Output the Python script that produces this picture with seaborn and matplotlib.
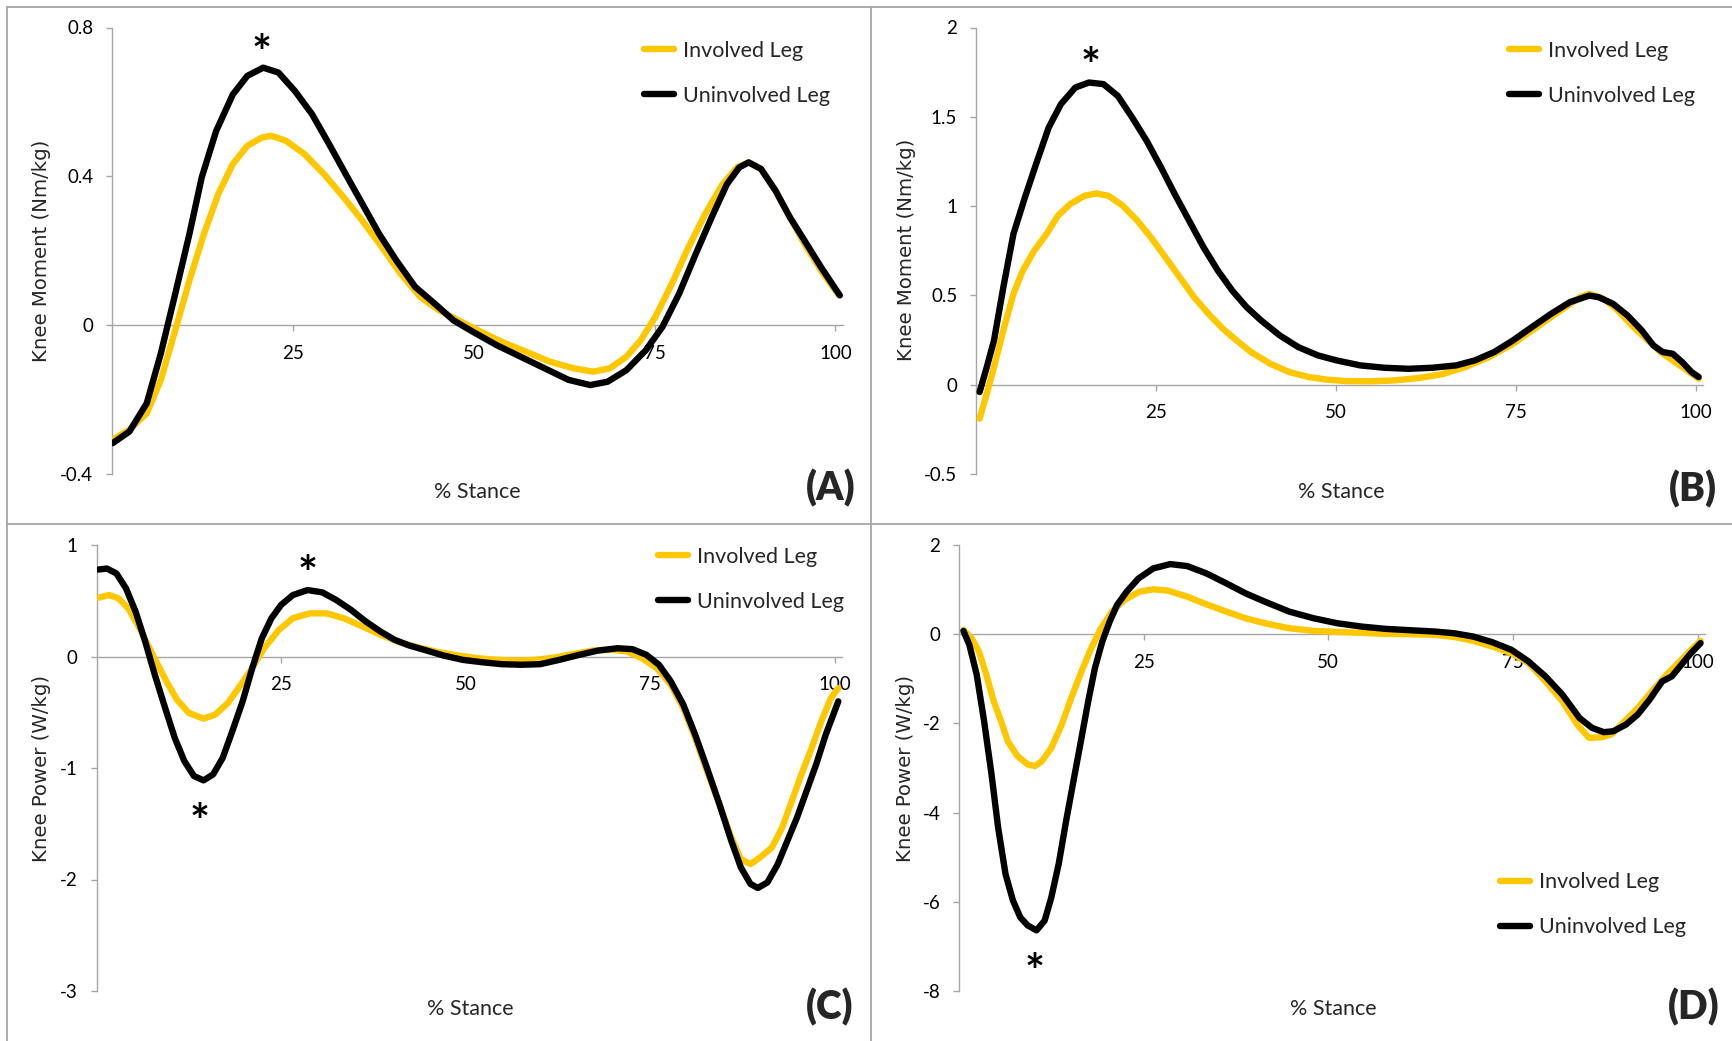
import matplotlib
matplotlib.use("Agg")
import matplotlib.pyplot as plt
from matplotlib.lines import Line2D
import pandas as pd
import seaborn as sns

# ---------------- data: knee kinetics over % stance ----------------
# (A) knee moment, Nm/kg
stance_a_inv = [0.1, 2.4, 4.8, 6.75, 8.75, 10.7, 12.7, 14.7, 16.7, 18.7, 20.7, 22.0, 24.0,
                26.6, 29.3, 32.0, 34.6, 37.3, 39.9, 42.6, 45.2, 47.9, 50.5, 53.9, 57.2,
                60.5, 63.8, 66.5, 68.8, 71.1, 73.1, 75.1, 77.4, 79.7, 82.0, 84.4, 86.4,
                88.0, 89.7, 91.7, 93.7, 95.7, 98.0, 100.3]
moment_a_inv = [-0.308, -0.281, -0.237, -0.147, -0.013, 0.12, 0.245, 0.353, 0.433, 0.482,
                0.504, 0.509, 0.496, 0.46, 0.406, 0.344, 0.281, 0.21, 0.138, 0.076, 0.04,
                0.013, -0.013, -0.045, -0.071, -0.098, -0.116, -0.125, -0.116, -0.085,
                -0.04, 0.022, 0.112, 0.21, 0.299, 0.379, 0.424, 0.4375, 0.42, 0.362,
                0.29, 0.219, 0.147, 0.085]
stance_a_uninv = [0.1, 2.4, 4.8, 6.75, 8.75, 10.7, 12.4, 14.4, 16.7, 18.7, 20.9, 23.0, 25.3,
                  27.65, 30.0, 32.3, 34.6, 36.9, 39.3, 41.9, 44.6, 47.2, 49.9, 53.2, 56.5,
                  59.8, 63.1, 66.1, 68.5, 71.1, 73.8, 76.1, 78.4, 80.7, 83.1, 85.0, 86.7,
                  88.0, 89.7, 91.7, 93.7, 95.7, 98.0, 100.6]
moment_a_uninv = [-0.317, -0.286, -0.21, -0.076, 0.085, 0.245, 0.397, 0.522, 0.62, 0.67,
                  0.692, 0.679, 0.629, 0.567, 0.487, 0.406, 0.326, 0.246, 0.174, 0.103,
                  0.058, 0.013, -0.018, -0.054, -0.085, -0.116, -0.147, -0.161, -0.152,
                  -0.121, -0.067, -0.004, 0.085, 0.192, 0.299, 0.379, 0.424, 0.4375,
                  0.42, 0.362, 0.29, 0.228, 0.156, 0.08]

# (B) knee moment, Nm/kg
stance_b_inv = [0.5, 1.5, 2.5, 3.8, 5.2, 6.5, 8.1, 9.8, 11.4, 13.1, 15.1, 16.7, 18.4, 20.4,
                22.4, 24.3, 26.3, 28.3, 30.3, 32.3, 34.3, 36.2, 38.2, 40.9, 43.5, 46.2,
                48.8, 51.5, 54.8, 58.1, 61.4, 64.7, 68.0, 71.3, 74.6, 77.9, 81.2, 83.9,
                85.2, 87.2, 89.2, 91.1, 93.1, 95.1, 97.1, 99.1, 100.4]
moment_b_inv = [-0.19, -0.05, 0.099, 0.304, 0.509, 0.639, 0.751, 0.844, 0.947, 1.012, 1.058,
                1.071, 1.058, 1.002, 0.919, 0.825, 0.714, 0.602, 0.49, 0.397, 0.313, 0.248,
                0.183, 0.117, 0.071, 0.043, 0.028, 0.02, 0.019, 0.024, 0.037, 0.058, 0.099,
                0.155, 0.229, 0.322, 0.415, 0.49, 0.509, 0.481, 0.415, 0.332, 0.257, 0.183,
                0.127, 0.071, 0.034]
stance_b_uninv = [0.5, 1.5, 2.5, 3.8, 5.2, 6.8, 8.5, 10.1, 11.8, 13.8, 15.7, 17.7, 19.7, 21.7,
                  23.7, 25.7, 27.6, 29.6, 31.6, 33.6, 35.6, 37.6, 39.6, 42.2, 44.8, 47.5,
                  50.1, 53.4, 56.7, 60.1, 63.4, 66.7, 69.3, 72.0, 74.6, 77.2, 79.9, 82.5,
                  85.2, 86.5, 88.5, 90.5, 92.5, 94.1, 95.4, 96.8, 98.1, 99.4, 100.4]
moment_b_uninv = [-0.041, 0.099, 0.248, 0.546, 0.844, 1.049, 1.254, 1.44, 1.571, 1.664, 1.692,
                  1.683, 1.617, 1.496, 1.366, 1.217, 1.068, 0.919, 0.77, 0.639, 0.527, 0.434,
                  0.36, 0.276, 0.21, 0.164, 0.136, 0.108, 0.095, 0.089, 0.095, 0.108, 0.136,
                  0.183, 0.248, 0.322, 0.397, 0.462, 0.499, 0.49, 0.453, 0.388, 0.304, 0.22,
                  0.183, 0.173, 0.127, 0.071, 0.043]

# (C) knee power, W/kg
stance_c_inv = [0.26, 1.7, 3.0, 4.3, 5.6, 6.96, 8.3, 9.6, 10.9, 12.5, 14.5, 16.1, 17.8, 19.4,
                21.1, 22.7, 24.7, 26.6, 28.9, 31.2, 33.5, 35.8, 38.5, 41.1, 43.7, 46.3, 49.0,
                51.6, 54.2, 56.8, 59.5, 62.1, 64.7, 67.3, 70.0, 71.9, 73.9, 75.9, 77.8, 79.5,
                81.1, 82.7, 84.4, 86.0, 87.3, 88.6, 89.9, 91.5, 92.9, 94.2, 95.5, 96.9, 98.2,
                99.5, 100.5]
power_c_inv = [0.527, 0.551, 0.521, 0.432, 0.283, 0.104, -0.074, -0.238, -0.387, -0.506,
               -0.557, -0.521, -0.417, -0.268, -0.104, 0.074, 0.238, 0.343, 0.387, 0.387,
               0.343, 0.277, 0.194, 0.128, 0.08, 0.039, 0.009, -0.015, -0.03, -0.036, -0.03,
               -0.009, 0.024, 0.054, 0.06, 0.045, -0.015, -0.104, -0.253, -0.462, -0.73,
               -1.028, -1.326, -1.623, -1.817, -1.862, -1.802, -1.713, -1.534, -1.296,
               -1.057, -0.819, -0.581, -0.372, -0.283]
stance_c_uninv = [0.26, 1.4, 2.7, 4.0, 5.3, 6.6, 7.9, 9.3, 10.6, 11.9, 13.2, 14.5, 15.8, 17.1,
                  18.4, 19.8, 21.1, 22.4, 23.7, 25.0, 26.6, 28.6, 30.6, 32.5, 34.5, 36.5, 38.5,
                  40.4, 42.4, 44.4, 47.0, 49.6, 52.2, 54.9, 57.5, 60.1, 62.7, 65.4, 68.0, 70.6,
                  72.6, 74.5, 76.2, 77.8, 79.5, 81.1, 82.7, 84.4, 86.0, 87.3, 88.6, 89.6, 90.9,
                  92.3, 93.6, 94.9, 96.2, 97.5, 98.8, 100.5]
power_c_uninv = [0.78, 0.789, 0.745, 0.611, 0.402, 0.134, -0.164, -0.462, -0.73, -0.938,
                 -1.072, -1.111, -1.057, -0.909, -0.67, -0.402, -0.104, 0.164, 0.343, 0.462,
                 0.551, 0.596, 0.575, 0.506, 0.417, 0.313, 0.223, 0.149, 0.098, 0.06, 0.009,
                 -0.03, -0.051, -0.069, -0.074, -0.069, -0.03, 0.015, 0.054, 0.074, 0.066,
                 0.015, -0.074, -0.223, -0.432, -0.7, -0.998, -1.326, -1.653, -1.892, -2.04,
                 -2.076, -2.026, -1.862, -1.653, -1.445, -1.206, -0.968, -0.7, -0.402]

# (D) knee power, W/kg
stance_d_inv = [0.6, 1.7, 2.7, 3.7, 4.7, 5.7, 6.6, 7.9, 9.3, 10.3, 11.2, 12.5, 13.9, 15.2,
                16.5, 17.8, 19.1, 20.7, 22.4, 24.4, 26.3, 28.3, 30.9, 33.5, 36.2, 38.8, 41.4,
                44.7, 48.0, 51.2, 54.5, 57.8, 61.1, 64.4, 67.0, 69.6, 72.2, 74.8, 77.1, 79.4,
                81.7, 83.7, 85.3, 87.0, 88.3, 89.9, 91.9, 93.8, 95.8, 97.8, 99.1, 100.4]
power_d_inv = [0.097, -0.089, -0.387, -0.909, -1.505, -1.95, -2.4, -2.73, -2.92, -2.957,
               -2.85, -2.55, -2.03, -1.43, -0.87, -0.35, 0.097, 0.507, 0.767, 0.953, 1.006,
               0.976, 0.842, 0.67, 0.507, 0.358, 0.246, 0.134, 0.074, 0.052, 0.03, 0.007,
               0.0, -0.015, -0.06, -0.149, -0.276, -0.425, -0.648, -1.058, -1.505, -2.026,
               -2.324, -2.309, -2.25, -1.99, -1.654, -1.281, -0.909, -0.574, -0.35, -0.149]
stance_d_uninv = [0.6, 1.4, 2.4, 3.4, 4.4, 5.3, 6.3, 7.3, 8.3, 9.3, 10.5, 11.6, 12.5, 13.5,
                  14.5, 15.5, 16.5, 17.5, 18.4, 19.4, 20.4, 21.4, 22.7, 24.3, 26.3, 28.6, 30.9,
                  33.5, 36.2, 38.8, 41.4, 44.7, 48.0, 51.2, 54.5, 57.8, 61.1, 64.4, 67.0, 69.6,
                  72.2, 74.8, 77.1, 79.4, 81.7, 84.0, 85.7, 87.3, 88.6, 90.3, 91.9, 93.5, 95.2,
                  96.5, 97.8, 99.1, 100.4]
power_d_uninv = [0.074, -0.238, -0.909, -1.95, -3.14, -4.34, -5.38, -5.97, -6.35, -6.53, -6.64,
                 -6.42, -5.9, -5.15, -4.19, -3.29, -2.4, -1.5, -0.76, -0.164, 0.283, 0.655,
                 0.953, 1.25, 1.475, 1.572, 1.527, 1.363, 1.14, 0.916, 0.73, 0.507, 0.358,
                 0.246, 0.171, 0.119, 0.089, 0.06, 0.022, -0.052, -0.179, -0.35, -0.61,
                 -0.946, -1.356, -1.877, -2.1, -2.197, -2.175, -2.026, -1.8, -1.467, -1.058,
                 -0.946, -0.685, -0.425, -0.2]

legs = ["Involved Leg", "Uninvolved Leg"]
leg_colors = {"Involved Leg": "#FFC700", "Uninvolved Leg": "#000000"}

# ---------------- style ----------------
sns.set_theme(style="white")
plt.rcParams["font.family"] = ["Lato", "DejaVu Sans"]

GREY = "#a6a6a6"
W, H = 1732, 1041

fig = plt.figure(figsize=(W / 100, H / 100), dpi=100)
fig.patch.set_facecolor("white")


def fx(px):
    return px / W


def fy(py):
    return 1 - py / H


panels = [
    dict(name="(A)", inv=(stance_a_inv, moment_a_inv), uninv=(stance_a_uninv, moment_a_uninv),
         rect=(112, 27.5, 842.7, 474), ylim=(-0.4, 0.8), yticks=[-0.4, 0, 0.4, 0.8],
         yticklabels=["-0.4", "0", "0.4", "0.8"], ylabel="Knee Moment (Nm/kg)",
         ylab_xy=(42, 251), xlab_xy=(477, 492), letter_xy=(831, 488),
         legend_xy=(644, 41), stars=[(20.7, 0.768)]),
    dict(name="(B)", inv=(stance_b_inv, moment_b_inv), uninv=(stance_b_uninv, moment_b_uninv),
         rect=(976, 27.5, 1703, 474), ylim=(-0.5, 2.0), yticks=[-0.5, 0, 0.5, 1, 1.5, 2],
         yticklabels=["-0.5", "0", "0.5", "1", "1.5", "2"], ylabel="Knee Moment (Nm/kg)",
         ylab_xy=(906, 250), xlab_xy=(1341, 492), letter_xy=(1693, 489),
         legend_xy=(1509, 41), stars=[(15.9, 1.86)]),
    dict(name="(C)", inv=(stance_c_inv, power_c_inv), uninv=(stance_c_uninv, power_c_uninv),
         rect=(96.5, 545, 842, 991), ylim=(-3, 1), yticks=[-3, -2, -1, 0, 1],
         yticklabels=["-3", "-2", "-1", "0", "1"], ylabel="Knee Power (W/kg)",
         ylab_xy=(42, 768), xlab_xy=(470, 1009), letter_xy=(830, 1007),
         legend_xy=(658, 547), stars=[(28.6, 0.864), (14.0, -1.361)]),
    dict(name="(D)", inv=(stance_d_inv, power_d_inv), uninv=(stance_d_uninv, power_d_uninv),
         rect=(959, 545, 1705, 991), ylim=(-8, 2), yticks=[-8, -6, -4, -2, 0, 2],
         yticklabels=["-8", "-6", "-4", "-2", "0", "2"], ylabel="Knee Power (W/kg)",
         ylab_xy=(905, 768), xlab_xy=(1333, 1009), letter_xy=(1694, 1007),
         legend_xy=(1500, 872.5), stars=[(10.3, -7.255)]),
]

for p in panels:
    x0, y0, x1, y1 = p["rect"]
    ax = fig.add_axes([fx(x0), fy(y1), (x1 - x0) / W, (y1 - y0) / H])
    ax.set_facecolor("none")

    df = pd.concat([
        pd.DataFrame({"stance": p["inv"][0], "value": p["inv"][1], "leg": legs[0]}),
        pd.DataFrame({"stance": p["uninv"][0], "value": p["uninv"][1], "leg": legs[1]}),
    ], ignore_index=True)

    sns.lineplot(data=df, x="stance", y="value", hue="leg", hue_order=legs,
                 palette=leg_colors, linewidth=4.6, sort=False, ax=ax,
                 solid_capstyle="round", solid_joinstyle="round", zorder=3)

    ax.set_xlim(0, 101)
    ax.set_ylim(*p["ylim"])
    ax.set_xticks([25, 50, 75, 100])
    ax.set_xticklabels(["25", "50", "75", "100"])
    ax.set_yticks(p["yticks"])
    ax.set_yticklabels(p["yticklabels"])

    for side in ("top", "right"):
        ax.spines[side].set_visible(False)
    ax.spines["bottom"].set_position(("data", 0))
    for side in ("left", "bottom"):
        ax.spines[side].set_color(GREY)
        ax.spines[side].set_linewidth(1.0)
        ax.spines[side].set_zorder(1)

    ax.tick_params(axis="y", which="major", direction="out", length=4.5, width=1.0,
                   color=GREY, pad=9, labelsize=13.5, labelcolor="#000000", left=True)
    ax.tick_params(axis="x", which="major", direction="out", length=4.5, width=1.0,
                   color=GREY, pad=9.5, labelsize=13.5, labelcolor="#000000", bottom=True)

    ax.set_ylabel(p["ylabel"], family="DejaVu Sans", fontsize=14.2, va="center")
    ax.yaxis.set_label_coords(fx(p["ylab_xy"][0]), fy(p["ylab_xy"][1]),
                              transform=fig.transFigure)
    ax.set_xlabel("% Stance", fontsize=15.5, va="center")
    ax.xaxis.set_label_coords(fx(p["xlab_xy"][0]), fy(p["xlab_xy"][1]),
                              transform=fig.transFigure)

    handles, labels = ax.get_legend_handles_labels()
    ax.legend(handles, labels, loc="upper left",
              bbox_to_anchor=(fx(p["legend_xy"][0]), fy(p["legend_xy"][1])),
              bbox_transform=fig.transFigure, frameon=False, borderpad=0,
              borderaxespad=0, handlelength=1.4, handletextpad=0.4,
              labelspacing=1.15, fontsize=15.5)

    # significance markers
    for sx, sy in p["stars"]:
        ax.annotate("*", xy=(sx, sy), xytext=(0, -11.5), textcoords="offset points",
                    ha="center", va="center", fontsize=34, fontweight="bold",
                    color="#000000", zorder=4)

    fig.text(fx(p["letter_xy"][0]), fy(p["letter_xy"][1]), p["name"],
             ha="center", va="center", fontsize=28, fontweight="heavy")

# panel frame lines
frame_kw = dict(color=GREY, linewidth=1.3, transform=fig.transFigure)
fig.add_artist(Line2D([fx(7), fx(7)], [fy(7), 0], **frame_kw))
fig.add_artist(Line2D([fx(7), 1], [fy(7), fy(7)], **frame_kw))
fig.add_artist(Line2D([fx(871), fx(871)], [fy(7), 0], **frame_kw))
fig.add_artist(Line2D([fx(7), 1], [fy(524), fy(524)], **frame_kw))

fig.savefig("out.png", dpi=100, facecolor="white")
